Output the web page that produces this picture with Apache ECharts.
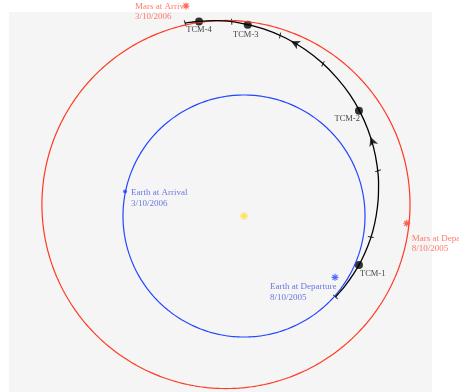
<!DOCTYPE html>
<html>
<head>
<meta charset="utf-8">
<script src="https://cdn.jsdelivr.net/npm/echarts@6/dist/echarts.min.js"></script>
<style>
  html, body { margin: 0; padding: 0; background: #fff; }
  #chart { width: 459px; height: 392px; }
</style>
</head>
<body>
<div id="chart"></div>
<script>
// orbits in AU, sun at (0, 0): centre x, centre y, radius
var earthOrbit = [0, 0, 1.0];
var marsOrbit = [-0.149, 0.095, 1.521];

// transfer trajectory, Earth departure -> Mars arrival
var trajX = [0.756, 0.832, 0.904, 0.968, 1.021, 1.063, 1.092, 1.109, 1.112, 1.099, 1.070, 1.023,
             0.958, 0.874, 0.769, 0.645, 0.502, 0.340, 0.162, -0.028, -0.227, -0.430, -0.487];
var trajY = [-0.669, -0.582, -0.481, -0.372, -0.255, -0.131, 0.000, 0.136, 0.277, 0.422, 0.569, 0.717,
             0.863, 1.005, 1.140, 1.266, 1.378, 1.473, 1.546, 1.594, 1.614, 1.603, 1.594];

// trajectory correction manoeuvres
var tcmNames = ['TCM-1', 'TCM-2', 'TCM-3', 'TCM-4'];
var tcmX = [0.950, 0.950, 0.031, -0.372];
var tcmY = [-0.405, 0.870, 1.580, 1.607];

// time ticks along the trajectory
var tickX = [0.756, 1.048, 1.108, 0.653, 0.298, -0.102, -0.487];
var tickY = [-0.669, -0.174, 0.374, 1.258, 1.492, 1.605, 1.594];

// direction arrows
var arrowX = [1.046, 0.388];
var arrowY = [0.653, 1.445];

// planet positions
var placeNames = ['Mars at Arriv', 'Mars at Departure', 'Earth at Departure', 'Earth at Arrival'];
var placeDates = ['3/10/2006', '8/10/2005', '8/10/2005', '3/10/2006'];
var placeX = [-0.479, 1.345, 0.752, -0.983];
var placeY = [1.736, -0.060, -0.507, 0.202];
var sunPos = [0, 0];

var RED = '#ff3a22', BLUE = '#2446ff';
var ASTER = 'path://M-0.8,-5L0.8,-5L0.8,5L-0.8,5Z M-5,-0.8L5,-0.8L5,0.8L-5,0.8Z ' +
  'M-2.97,-4.1L4.1,2.97L2.97,4.1L-4.1,-2.97Z M4.1,-2.97L-2.97,4.1L-4.1,2.97L2.97,-4.1Z';

function orbitPoints(o) {
  var pts = [];
  for (var i = 0; i <= 360; i++) {
    var a = i * Math.PI / 180;
    pts.push([o[0] + o[2] * Math.cos(a), o[1] + o[2] * Math.sin(a)]);
  }
  return pts;
}

function tangentDeg(x, y) {
  var best = 0, bd = Infinity;
  for (var i = 0; i < trajX.length; i++) {
    var d = (trajX[i] - x) * (trajX[i] - x) + (trajY[i] - y) * (trajY[i] - y);
    if (d < bd) { bd = d; best = i; }
  }
  var a = Math.max(best - 1, 0), b = Math.min(best + 1, trajX.length - 1);
  return Math.atan2(trajY[b] - trajY[a], trajX[b] - trajX[a]) * 180 / Math.PI;
}

var tcmLabel = [
  {position: 'right', distance: 0, offset: [-3, 9]},
  {position: 'left', distance: 0, offset: [5, 8]},
  {position: 'bottom', distance: 0, offset: [-2, 1]},
  {position: 'bottom', distance: 0, offset: [0, 0]}
];
var placeLabel = [
  {offset: [-54.5, 5.7], color: '#ff5a48'},
  {offset: [1.5, 20.4], color: '#ff5a48'},
  {offset: [-68.5, 15], color: '#4657e0'},
  {offset: [4, 6.8], color: '#4657e0'}
];
var placeColor = [RED, RED, BLUE, BLUE];

var chart = echarts.init(document.getElementById('chart'));
chart.setOption({
  animation: false,
  grid: {left: 9, right: 27, top: 12, bottom: 0, show: true, backgroundColor: '#f5f5f5', borderWidth: 0},
  xAxis: {type: 'value', min: -1.9421, max: 1.5537, show: false},
  yAxis: {type: 'value', min: -1.4545, max: 1.686, show: false},
  series: [
    {
      type: 'line', data: orbitPoints(marsOrbit), showSymbol: false, clip: false,
      lineStyle: {color: RED, width: 1.2}
    },
    {
      type: 'line', data: orbitPoints(earthOrbit), showSymbol: false, clip: false,
      lineStyle: {color: BLUE, width: 1.2}
    },
    {
      type: 'line', smooth: 0.3, showSymbol: false, clip: false,
      data: trajX.map(function (x, i) { return [x, trajY[i]]; }),
      lineStyle: {color: '#000', width: 1.3}
    },
    {
      type: 'scatter', clip: false, symbol: 'rect', symbolSize: [1, 6],
      itemStyle: {color: '#000'},
      data: tickX.map(function (x, i) {
        return {value: [x, tickY[i]], symbolRotate: Math.atan2(tickY[i], x) * 180 / Math.PI - 90};
      })
    },
    {
      type: 'scatter', clip: false, symbol: 'arrow', symbolSize: [7, 9],
      itemStyle: {color: '#000'},
      data: arrowX.map(function (x, i) {
        return {value: [x, arrowY[i]], symbolRotate: tangentDeg(x, arrowY[i]) - 90};
      })
    },
    {
      type: 'scatter', clip: false, symbolSize: 8,
      itemStyle: {color: '#000'},
      data: tcmX.map(function (x, i) {
        return {
          value: [x, tcmY[i]], name: tcmNames[i],
          label: Object.assign({show: true, formatter: '{b}', color: '#111',
            fontFamily: 'Liberation Serif', fontSize: 8.5}, tcmLabel[i])
        };
      })
    },
    {
      type: 'scatter', clip: false,
      data: placeX.map(function (x, i) {
        return {
          value: [x, placeY[i]], name: placeNames[i],
          symbol: i === 3 ? 'circle' : ASTER, symbolSize: i === 3 ? 4 : 7,
          itemStyle: {color: placeColor[i]},
          label: {
            show: true, position: 'right', distance: 0, offset: placeLabel[i].offset,
            formatter: placeNames[i] + '\n' + placeDates[i], color: placeLabel[i].color,
            fontFamily: 'Liberation Serif', fontSize: 9, lineHeight: 10.5
          }
        };
      })
    },
    {
      type: 'scatter', clip: false, symbol: ASTER, symbolSize: 8,
      itemStyle: {color: '#ffdf3a'},
      data: [sunPos]
    }
  ]
});
</script>
</body>
</html>
